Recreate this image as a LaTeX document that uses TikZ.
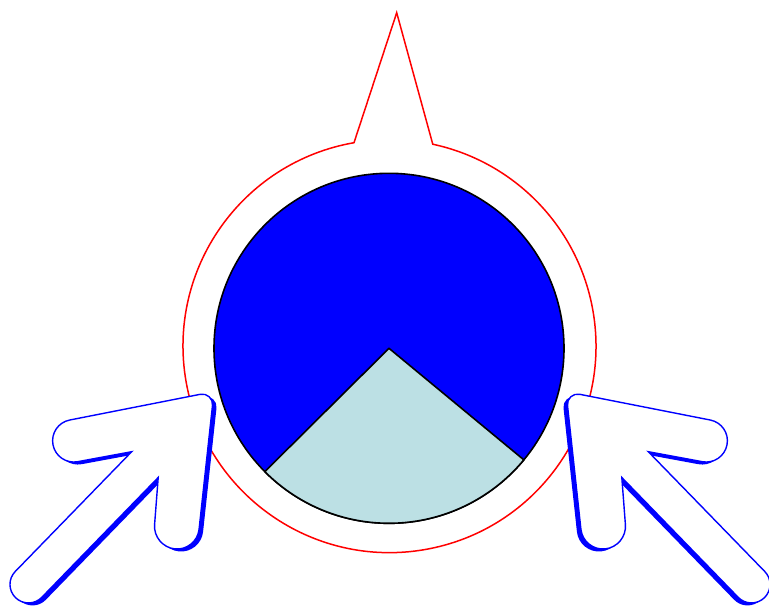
\documentclass[tikz,border=0pt]{standalone}
\usetikzlibrary{calc}
\definecolor{pieblue}{RGB}{0,0,255}
\definecolor{slicecol}{RGB}{188,224,228}
\newcommand\rcorner[5]{-- ($(#2)!#4!(#1)$) .. controls ($(#2)!#5!(#1)$) and ($(#2)!#5!(#3)$) .. ($(#2)!#4!(#3)$)}
\newcommand\arrowshape{(131.7,451.7)
 \rcorner{131.7,451.7}{2.3,584.8}{28.9,610.6}{18.5pt}{8.3pt}
 \rcorner{2.3,584.8}{28.9,610.6}{158.2,477.5}{18.5pt}{8.3pt}
 -- (158.2,477.5)
 \rcorner{158.2,477.5}{152.9,546.6}{196.7,551.2}{22pt}{9.9pt}
 \rcorner{152.9,546.6}{196.7,551.2}{214,391.6}{22pt}{9.9pt}
 \rcorner{196.7,551.2}{214,391.6}{49,424.1}{14pt}{7pt}
 \rcorner{214,391.6}{49,424.1}{57,465.5}{21pt}{9.4pt}
 \rcorner{49,424.1}{57,465.5}{131.7,451.7}{21pt}{9.4pt}
 -- cycle}
\tikzset{
  outline/.style={draw=red, line width=1.5pt},
  disc/.style={fill=pieblue, draw=black, line width=1.6pt},
  slice/.style={fill=slicecol, draw=black, line width=1.6pt, line join=round},
  arrowbody/.style={fill=white, draw=pieblue, line width=1.4pt},
  arrowshadow/.style={fill=pieblue}
}
\begin{document}
\begin{tikzpicture}[x=1pt,y=-1pt]
\useasboundingbox (0,0) rectangle (769,606);
% red outline with spike
\draw[outline, line join=miter] (354,142.7) arc[start angle=-99.9, delta angle=-338, radius=206.5] -- (396.7,12.7) -- cycle;
% blue disc and slice
\draw[disc] (389,348.3) circle[radius=175];
\draw[slice] (389,348.3) -- ++(-224.8:175) arc[start angle=-224.8, end angle=-320.4, radius=175] -- cycle;
% left arrow
\begin{scope}[shift={(4,2.5)}]
  \fill[arrowshadow] \arrowshape;
\end{scope}
\draw[arrowbody] \arrowshape;
% right arrow (mirror)
\begin{scope}[shift={(780,0)}, xscale=-1]
  \begin{scope}[shift={(4,2.5)}]
    \fill[arrowshadow] \arrowshape;
  \end{scope}
  \draw[arrowbody] \arrowshape;
\end{scope}
\end{tikzpicture}
\end{document}
